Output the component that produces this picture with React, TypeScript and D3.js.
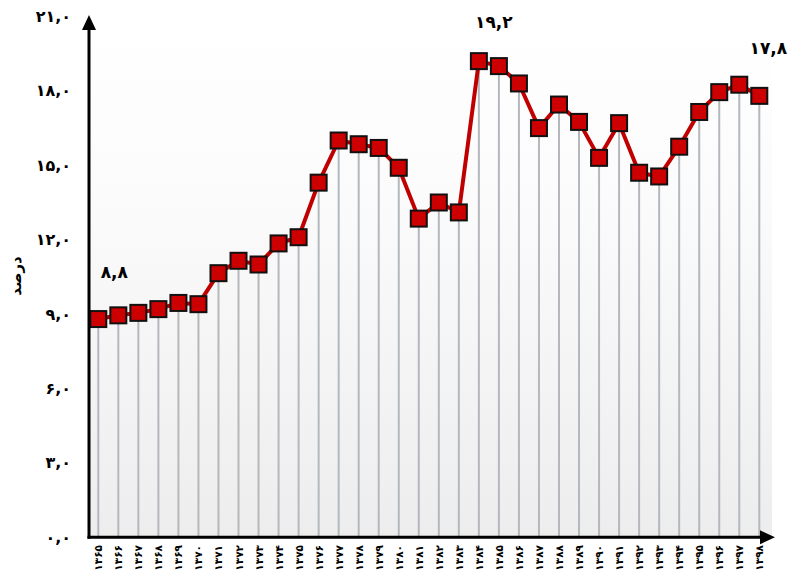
import React from "react";
import * as d3 from "d3";

const years = [
  "۱۳۶۵","۱۳۶۶","۱۳۶۷","۱۳۶۸","۱۳۶۹","۱۳۷۰","۱۳۷۱","۱۳۷۲","۱۳۷۳","۱۳۷۴",
  "۱۳۷۵","۱۳۷۶","۱۳۷۷","۱۳۷۸","۱۳۷۹","۱۳۸۰","۱۳۸۱","۱۳۸۲","۱۳۸۳","۱۳۸۴",
  "۱۳۸۵","۱۳۸۶","۱۳۸۷","۱۳۸۸","۱۳۸۹","۱۳۹۰","۱۳۹۱","۱۳۹۲","۱۳۹۳","۱۳۹۴",
  "۱۳۹۵","۱۳۹۶","۱۳۹۷","۱۳۹۸",
];
const values = [
  8.8, 8.95, 9.05, 9.2, 9.45, 9.4, 10.65, 11.15, 11.0, 11.85,
  12.1, 14.3, 16.0, 15.85, 15.7, 14.9, 12.85, 13.5, 13.1, 19.2,
  19.0, 18.3, 16.5, 17.45, 16.75, 15.3, 16.7, 14.7, 14.55, 15.75,
  17.15, 17.95, 18.25, 17.8,
];
const yTicks = [0, 3, 6, 9, 12, 15, 18, 21];
const yTickLabels = ["۰,۰", "۳,۰", "۶,۰", "۹,۰", "۱۲,۰", "۱۵,۰", "۱۸,۰", "۲۱,۰"];
const annotations = [
  { index: 0, text: "۸,۸", dx: 16, y: 10.7 },
  { index: 19, text: "۱۹,۲", dx: 15, y: 20.78 },
  { index: 33, text: "۱۷,۸", dx: 9, y: 19.73 },
];
const yTitle = "درصد";

const W = 791;
const H = 579;
const axisX = 89;
const FONT = "'DejaVu Sans', sans-serif";

export default function App() {
  const x = d3.scalePoint<number>().domain(d3.range(years.length)).range([98.3, 759.3]);
  const y = d3.scaleLinear().domain([0, 21]).range([537.3, 16.5]);
  const line = d3
    .line<number>()
    .x((_, i) => x(i)!)
    .y((d) => y(d));
  const y0 = y(0);
  return (
    <svg
      width={W}
      height={H}
      style={{ position: "absolute", left: 0, top: 0, background: "#fff" }}
      fontFamily={FONT}
    >
      <defs>
        <linearGradient id="bg" x1="0" y1="0" x2="0" y2="1">
          <stop offset="0" stopColor="#ffffff" />
          <stop offset="0.35" stopColor="#fbfbfb" />
          <stop offset="1" stopColor="#ededed" />
        </linearGradient>
      </defs>
      <rect x={axisX} y={y(21)} width={772 - axisX} height={y0 - y(21)} fill="url(#bg)" />
      {/* drop lines */}
      {values.map((v, i) => (
        <line
          key={"d" + i}
          x1={x(i)}
          x2={x(i)}
          y1={y(v)}
          y2={y0}
          stroke="#b4b8bc"
          strokeWidth={2}
        />
      ))}
      <path d={line(values) || ""} fill="none" stroke="#c00000" strokeWidth={4} strokeLinejoin="round" />
      {values.map((v, i) => (
        <rect
          key={"m" + i}
          x={x(i)! - 8}
          y={y(v) - 8}
          width={16}
          height={16}
          fill="#cc0000"
          stroke="#111"
          strokeWidth={2}
        />
      ))}
      {/* axes */}
      <line x1={axisX} x2={axisX} y1={y0 + 1.5} y2={28} stroke="#000" strokeWidth={3} />
      <path d={`M${axisX - 7},${30} L${axisX},${15} L${axisX + 7},${30} Z`} fill="#000" />
      <line x1={axisX - 1.5} x2={762} y1={y0} y2={y0} stroke="#000" strokeWidth={3} />
      <path d={`M${760},${y0 - 7} L${775},${y0} L${760},${y0 + 7} Z`} fill="#000" />
      {/* y tick labels */}
      {yTicks.map((t, i) => (
        <text
          key={"yt" + i}
          x={71}
          y={y(t)}
          textAnchor="end"
          dominantBaseline="central"
          fontSize={16}
          fontWeight="bold"
          direction="ltr"
        >
          {yTickLabels[i]}
        </text>
      ))}
      <text
        transform={`translate(16,${276}) rotate(-90)`}
        textAnchor="middle"
        dominantBaseline="central"
        fontSize={15}
        fontWeight="bold"
      >
        {yTitle}
      </text>
      {/* x tick labels */}
      {years.map((yr, i) => (
        <text
          key={"xt" + i}
          transform={`translate(${x(i)},${545}) rotate(-90)`}
          textAnchor="end"
          dominantBaseline="central"
          fontSize={10.5}
          fontWeight="bold"
          direction="ltr"
        >
          {yr}
        </text>
      ))}
      {/* annotations */}
      {annotations.map((a, i) => (
        <text
          key={"an" + i}
          x={x(a.index)! + a.dx}
          y={y(a.y)}
          textAnchor="middle"
          dominantBaseline="central"
          fontSize={17}
          fontWeight="bold"
          direction="ltr"
        >
          {a.text}
        </text>
      ))}
    </svg>
  );
}
